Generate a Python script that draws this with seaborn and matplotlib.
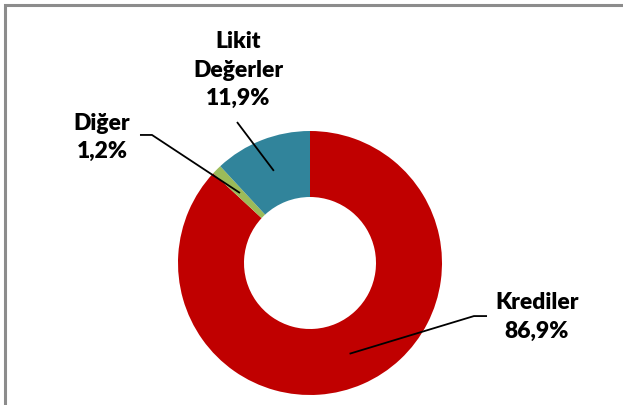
import matplotlib
matplotlib.use("Agg")
import matplotlib.pyplot as plt
import seaborn as sns
import numpy as np
from matplotlib.patches import Rectangle

categories = ["Krediler", "Diğer", "Likit\nDeğerler"]
values = [86.9, 1.2, 11.9]
colors = ["#C00000", "#9BBB59", "#31849B"]
label_pos = [(1.72, -0.41), (-1.576, 0.951), (-0.545, 1.462)]
elbow = [((1.341, -0.402), (1.242, -0.402)),
         ((-1.288, 0.970), (-1.197, 0.970)),
         (None, (-0.553, 1.068))]

sns.set_theme(style="white")
plt.rcParams['font.family'] = ['Lato', 'DejaVu Sans']

W, H = 623, 405
fig = plt.figure(figsize=(W / 100, H / 100), dpi=100)
fig.patch.set_facecolor("white")

cx, cy, r = 310, 263, 132
ax = fig.add_axes([(cx - r) / W, (H - cy - r) / H, 2 * r / W, 2 * r / H])
wedges, _ = ax.pie(values, colors=colors, startangle=90, counterclock=False,
                   radius=1, wedgeprops=dict(width=0.5, edgecolor="none"))
ax.set_xlim(-1, 1)
ax.set_ylim(-1, 1)
ax.set_aspect("equal")
ax.axis("off")

for w, cat, val, pos, el in zip(wedges, categories, values, label_pos, elbow):
    ang = np.deg2rad((w.theta1 + w.theta2) / 2)
    px, py = 0.75 * np.cos(ang), 0.75 * np.sin(ang)
    pts = [p for p in el if p is not None] + [(px, py)]
    xs, ys = zip(*pts)
    ax.plot(xs, ys, color="black", lw=1.3, clip_on=False, solid_capstyle="butt")
    txt = f"{cat}\n{val:.1f}%".replace(".", ",")
    ax.text(pos[0], pos[1], txt, ha="center", va="center", fontsize=16.5,
            fontweight="heavy", color="black", linespacing=1.45, clip_on=False)

fig.patches.append(Rectangle((5 / W, -0.2), 1.5, 1.2 - 5 / H, transform=fig.transFigure,
                             fill=False, edgecolor="#8C8C8C", lw=2.2, zorder=10))

fig.savefig("out.png", dpi=100, facecolor="white")
